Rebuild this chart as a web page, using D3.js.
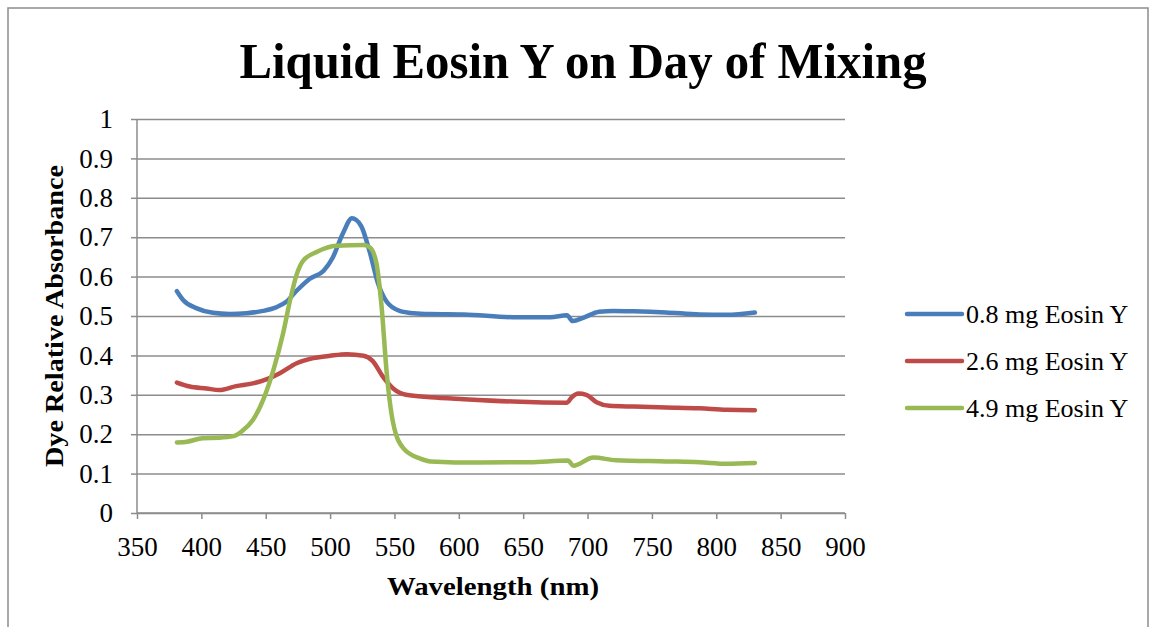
<!DOCTYPE html>
<html>
<head>
<meta charset="utf-8">
<script src="https://cdn.jsdelivr.net/npm/d3@7"></script>
<style>
  body { margin: 0; background: #fff; }
  svg text { font-family: "Liberation Serif", "DejaVu Serif", serif; fill: #000; }
</style>
</head>
<body>
<div id="chart"></div>
<script>
let width = 1152
let height = 627

let margins = { top: 119, left: 137, right: 1152 - 845, bottom: 627 - 513 }

// series names and colours
let seriesNames = ['0.8 mg Eosin Y', '2.6 mg Eosin Y', '4.9 mg Eosin Y']
let seriesColors = ['#4a7ebb', '#be4b48', '#98b954']

// values: [wavelength nm, absorbance]
let blue = [
  [381, 0.563], [386, 0.54], [396, 0.52], [409, 0.508], [422, 0.505], [435, 0.507],
  [448, 0.513], [458, 0.522], [466, 0.536], [474, 0.564], [484, 0.594], [495, 0.615],
  [502, 0.648], [510, 0.71], [517, 0.748], [524, 0.729], [531, 0.66], [537, 0.585],
  [544, 0.536], [554, 0.513], [565, 0.507], [578, 0.505], [604, 0.504], [642, 0.497],
  [671, 0.497], [684, 0.502], [688.5, 0.487], [697, 0.496], [709, 0.511], [720, 0.513],
  [736, 0.512], [761, 0.509], [787, 0.504], [808, 0.503], [830, 0.509]
]
let red = [
  [381, 0.331], [391, 0.321], [404, 0.316], [414, 0.312], [427, 0.322], [440, 0.329],
  [451, 0.34], [461, 0.355], [474, 0.38], [487, 0.393], [500, 0.399], [513, 0.403],
  [526, 0.399], [533, 0.386], [541, 0.346], [549, 0.316], [559, 0.3], [578, 0.294],
  [604, 0.289], [642, 0.283], [684, 0.28], [687.5, 0.293], [693, 0.303], [699, 0.3],
  [707, 0.281], [717, 0.272], [736, 0.27], [761, 0.268], [787, 0.266], [808, 0.262],
  [830, 0.261]
]
let green = [
  [381, 0.179], [389, 0.181], [401, 0.19], [414, 0.191], [425, 0.195], [432, 0.209],
  [440, 0.236], [448, 0.287], [456, 0.363], [463.5, 0.456], [469, 0.541], [474, 0.605],
  [479, 0.64], [490, 0.663], [505, 0.678], [526, 0.68], [531, 0.674], [536, 0.634],
  [540, 0.524], [544, 0.355], [549, 0.228], [557, 0.164], [570, 0.138], [578, 0.131],
  [616, 0.128], [655, 0.129], [685, 0.133], [689, 0.12], [704.5, 0.141], [722, 0.134],
  [761, 0.131], [787, 0.129], [808, 0.125], [830, 0.127]
]
let allSeries = [blue, red, green]

let xTicks = [350, 400, 450, 500, 550, 600, 650, 700, 750, 800, 850, 900]
let yTicks = [0, 0.1, 0.2, 0.3, 0.4, 0.5, 0.6, 0.7, 0.8, 0.9, 1]

let xScale = d3.scaleLinear()
  .domain([350, 900])
  .range([margins.left, width - margins.right])

let yScale = d3.scaleLinear()
  .domain([0, 1])
  .range([height - margins.bottom, margins.top])

let svg = d3.select('#chart').append('svg')
  .attr('width', width)
  .attr('height', height)

// outer frame
svg.append('rect')
  .attr('x', 8).attr('y', 8)
  .attr('width', 1140).attr('height', 640)
  .attr('fill', 'none')
  .attr('stroke', '#8c8c8c')
  .attr('stroke-width', 1.5)

// gridlines + y axis
let yAxis = d3.axisLeft(yScale)
  .tickValues(yTicks)
  .tickFormat(d3.format('~g'))
  .tickSize(6)
  .tickPadding(18)

let yG = svg.append('g')
  .attr('transform', `translate(${margins.left},0)`)
  .call(yAxis)

yG.selectAll('.tick').append('line')
  .attr('x1', 0)
  .attr('x2', width - margins.right - margins.left)
  .attr('stroke', '#8c8c8c')
  .attr('stroke-width', 1.5)

let xAxis = d3.axisBottom(xScale)
  .tickValues(xTicks)
  .tickSize(6)
  .tickPadding(18)

let xG = svg.append('g')
  .attr('transform', `translate(0,${height - margins.bottom})`)
  .call(xAxis)

svg.selectAll('.domain, .tick line')
  .attr('stroke', '#8c8c8c')
  .attr('stroke-width', 1.5)
xG.select('.domain').attr('d', `M${margins.left},0H${width - margins.right}`)
yG.select('.domain').attr('d', `M0,${height - margins.bottom}V${margins.top}`)

svg.selectAll('.tick text')
  .style('font-size', '27px')
  .style('font-family', '"Liberation Serif", serif')
  .attr('fill', '#000')

// series lines
let line = d3.line()
  .x((d) => xScale(d[0]))
  .y((d) => yScale(d[1]))
  .curve(d3.curveMonotoneX)

svg.append('g').selectAll('path')
  .data(allSeries)
  .enter().append('path')
  .attr('d', line)
  .attr('fill', 'none')
  .attr('stroke', (d, i) => seriesColors[i])
  .attr('stroke-width', 4.5)
  .attr('stroke-linecap', 'round')
  .attr('stroke-linejoin', 'round')

// title and axis titles
svg.append('text')
  .attr('x', 583).attr('y', 78)
  .attr('text-anchor', 'middle')
  .attr('textLength', 687)
  .attr('lengthAdjust', 'spacingAndGlyphs')
  .style('font-size', '50px')
  .style('font-weight', 'bold')
  .text('Liquid Eosin Y on Day of Mixing')

svg.append('text')
  .attr('x', 493).attr('y', 595)
  .attr('text-anchor', 'middle')
  .attr('textLength', 212)
  .attr('lengthAdjust', 'spacingAndGlyphs')
  .style('font-size', '26px')
  .style('font-weight', 'bold')
  .text('Wavelength (nm)')

svg.append('text')
  .attr('transform', 'translate(63,316) rotate(-90)')
  .attr('text-anchor', 'middle')
  .attr('textLength', 302)
  .attr('lengthAdjust', 'spacingAndGlyphs')
  .style('font-size', '26px')
  .style('font-weight', 'bold')
  .text('Dye Relative Absorbance')

// legend
let legend = svg.append('g').selectAll('g')
  .data(seriesNames)
  .enter().append('g')
  .attr('transform', (d, i) => `translate(907,${314 + i * 47})`)

legend.append('line')
  .attr('x1', 0).attr('x2', 55)
  .attr('stroke', (d, i) => seriesColors[i])
  .attr('stroke-width', 4.5)
  .attr('stroke-linecap', 'round')

legend.append('text')
  .attr('x', 59).attr('y', 9)
  .style('font-size', '26px')
  .text((d) => d)
</script>
</body>
</html>
